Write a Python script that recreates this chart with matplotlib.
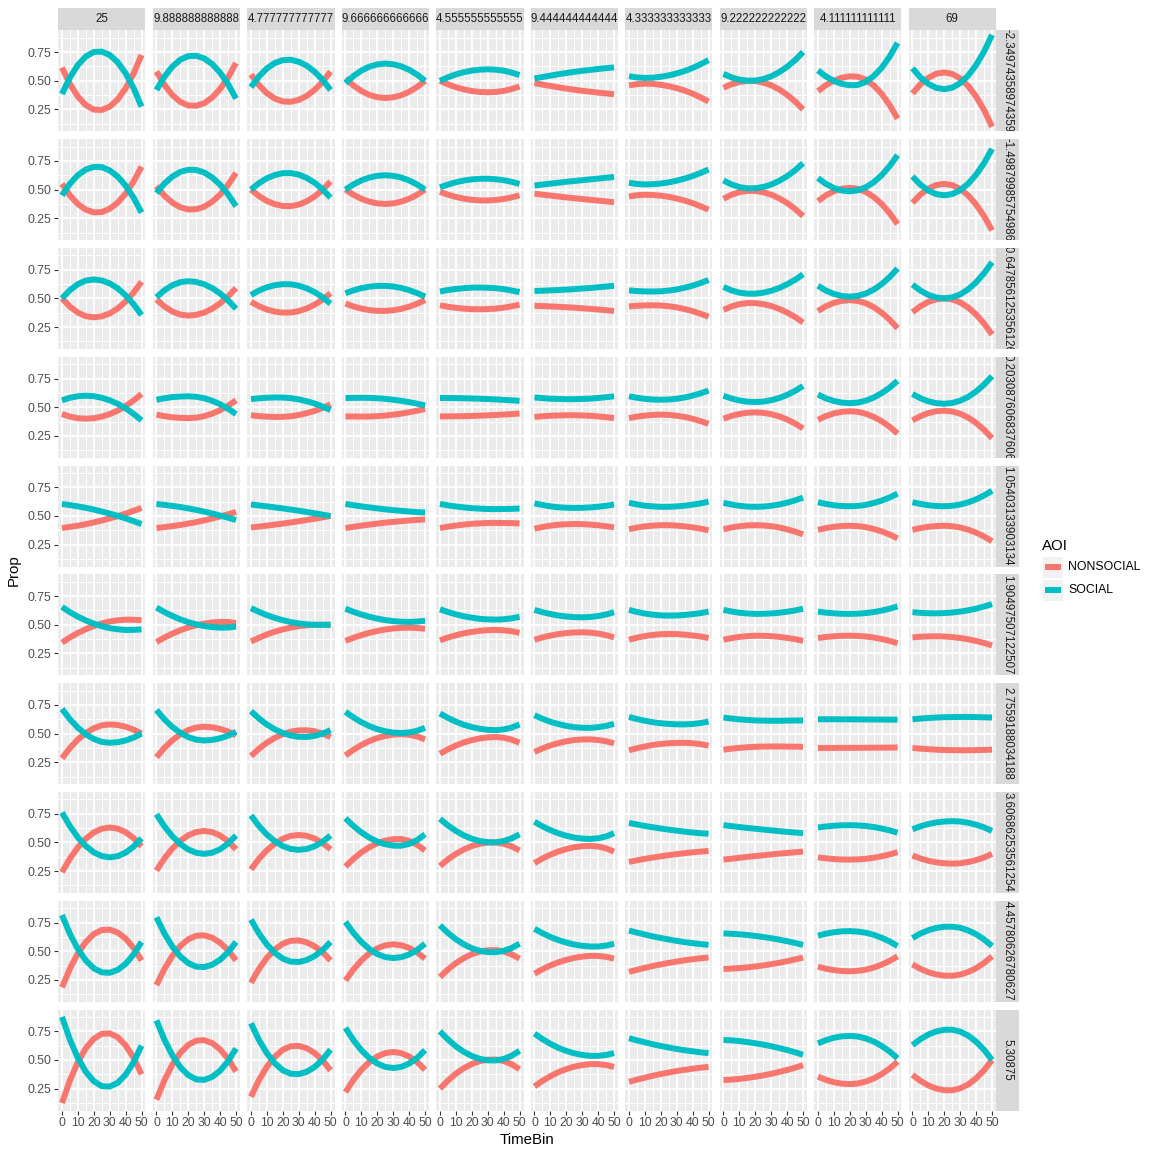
import matplotlib
matplotlib.use("Agg")
import matplotlib.pyplot as plt
from matplotlib.patches import Rectangle
from matplotlib.lines import Line2D

# ---------------- data ----------------
TIME_BINS = [0, 5, 10, 15, 20, 25, 30, 35, 40, 45, 50]
# column strip labels as they appear (cut off by the strip width) in the reference
COL_LABELS = ["25", "9.888888888888", "4.777777777777", "9.666666666666",
              "4.555555555555", "9.444444444444", "4.333333333333",
              "9.222222222222", "4.111111111111", "69"]
ROW_LABELS = ["-2.34974358974359", "-1.49879985754986", "-0.647856125356126",
              "0.203087606837606", "1.05403133903134", "1.90497507122507",
              "2.7559188034188", "3.60686253561254", "4.45780626780627", "5.30875"]
X_TICKS = [0, 10, 20, 30, 40, 50]
X_TICK_LABELS = ["0", "10", "20", "30", "40", "50"]
Y_TICKS = [0.25, 0.50, 0.75]
Y_TICK_LABELS = ["0.25", "0.50", "0.75"]
AOI_LEVELS = ["NONSOCIAL", "SOCIAL"]

SOCIAL = [
    [  # row 1
        [0.385, 0.529, 0.638, 0.712, 0.751, 0.754, 0.725, 0.662, 0.566, 0.437, 0.275],
        [0.420, 0.536, 0.624, 0.684, 0.715, 0.718, 0.695, 0.646, 0.571, 0.471, 0.345],
        [0.445, 0.538, 0.608, 0.655, 0.680, 0.683, 0.666, 0.632, 0.579, 0.509, 0.420],
        [0.480, 0.541, 0.589, 0.623, 0.643, 0.650, 0.644, 0.626, 0.596, 0.554, 0.500],
        [0.500, 0.531, 0.556, 0.575, 0.589, 0.597, 0.600, 0.597, 0.588, 0.572, 0.550],
        [0.520, 0.533, 0.545, 0.557, 0.568, 0.578, 0.587, 0.595, 0.603, 0.610, 0.617],
        [0.540, 0.529, 0.525, 0.527, 0.535, 0.547, 0.564, 0.585, 0.612, 0.644, 0.680],
        [0.560, 0.530, 0.510, 0.501, 0.502, 0.515, 0.539, 0.575, 0.622, 0.680, 0.750],
        [0.590, 0.538, 0.499, 0.473, 0.461, 0.464, 0.490, 0.540, 0.613, 0.710, 0.830],
        [0.610, 0.530, 0.473, 0.438, 0.427, 0.440, 0.480, 0.545, 0.637, 0.755, 0.900],
    ],
    [  # row 2
        [0.450, 0.551, 0.626, 0.675, 0.698, 0.696, 0.667, 0.614, 0.535, 0.430, 0.300],
        [0.470, 0.553, 0.614, 0.654, 0.673, 0.671, 0.649, 0.606, 0.543, 0.459, 0.355],
        [0.500, 0.556, 0.599, 0.627, 0.643, 0.644, 0.631, 0.602, 0.560, 0.502, 0.430],
        [0.500, 0.545, 0.580, 0.605, 0.620, 0.625, 0.620, 0.605, 0.580, 0.545, 0.500],
        [0.520, 0.544, 0.564, 0.579, 0.589, 0.594, 0.595, 0.590, 0.582, 0.568, 0.550],
        [0.535, 0.544, 0.552, 0.560, 0.568, 0.575, 0.582, 0.589, 0.596, 0.603, 0.610],
        [0.560, 0.549, 0.545, 0.547, 0.553, 0.563, 0.578, 0.596, 0.618, 0.645, 0.675],
        [0.580, 0.545, 0.522, 0.511, 0.512, 0.523, 0.544, 0.576, 0.617, 0.668, 0.730],
        [0.600, 0.550, 0.514, 0.492, 0.485, 0.494, 0.520, 0.564, 0.625, 0.704, 0.800],
        [0.615, 0.543, 0.491, 0.460, 0.450, 0.461, 0.495, 0.551, 0.630, 0.731, 0.855],
    ],
    [  # row 3
        [0.500, 0.572, 0.624, 0.655, 0.665, 0.656, 0.631, 0.588, 0.527, 0.450, 0.355],
        [0.510, 0.571, 0.615, 0.641, 0.650, 0.643, 0.623, 0.590, 0.543, 0.483, 0.410],
        [0.530, 0.568, 0.597, 0.615, 0.624, 0.623, 0.611, 0.588, 0.555, 0.510, 0.455],
        [0.545, 0.570, 0.589, 0.602, 0.609, 0.609, 0.604, 0.591, 0.572, 0.547, 0.515],
        [0.560, 0.573, 0.582, 0.589, 0.594, 0.595, 0.593, 0.589, 0.581, 0.569, 0.555],
        [0.565, 0.567, 0.570, 0.573, 0.577, 0.581, 0.586, 0.591, 0.597, 0.603, 0.610],
        [0.570, 0.564, 0.561, 0.560, 0.562, 0.568, 0.578, 0.593, 0.611, 0.634, 0.660],
        [0.600, 0.570, 0.550, 0.541, 0.541, 0.550, 0.566, 0.591, 0.623, 0.662, 0.710],
        [0.610, 0.568, 0.539, 0.521, 0.515, 0.522, 0.542, 0.576, 0.624, 0.685, 0.760],
        [0.620, 0.568, 0.530, 0.508, 0.500, 0.509, 0.535, 0.579, 0.640, 0.719, 0.815],
    ],
    [  # row 4
        [0.560, 0.582, 0.596, 0.600, 0.596, 0.582, 0.560, 0.530, 0.490, 0.442, 0.385],
        [0.565, 0.578, 0.588, 0.593, 0.595, 0.591, 0.578, 0.556, 0.526, 0.487, 0.440],
        [0.570, 0.578, 0.582, 0.585, 0.584, 0.579, 0.568, 0.552, 0.532, 0.506, 0.475],
        [0.580, 0.581, 0.582, 0.581, 0.578, 0.573, 0.565, 0.556, 0.544, 0.531, 0.515],
        [0.580, 0.580, 0.579, 0.578, 0.576, 0.574, 0.571, 0.568, 0.564, 0.560, 0.555],
        [0.585, 0.579, 0.574, 0.572, 0.570, 0.570, 0.572, 0.575, 0.580, 0.587, 0.595],
        [0.595, 0.582, 0.573, 0.567, 0.565, 0.567, 0.574, 0.585, 0.601, 0.621, 0.645],
        [0.600, 0.576, 0.559, 0.548, 0.545, 0.549, 0.561, 0.580, 0.607, 0.642, 0.685],
        [0.610, 0.577, 0.554, 0.540, 0.535, 0.540, 0.557, 0.584, 0.622, 0.670, 0.730],
        [0.615, 0.578, 0.551, 0.535, 0.530, 0.537, 0.557, 0.590, 0.637, 0.697, 0.770],
    ],
    [  # row 5
        [0.605, 0.595, 0.584, 0.571, 0.556, 0.539, 0.521, 0.501, 0.479, 0.455, 0.430],
        [0.605, 0.597, 0.588, 0.578, 0.566, 0.553, 0.538, 0.522, 0.504, 0.485, 0.465],
        [0.600, 0.592, 0.584, 0.575, 0.566, 0.556, 0.546, 0.535, 0.524, 0.512, 0.500],
        [0.605, 0.594, 0.584, 0.575, 0.566, 0.558, 0.551, 0.545, 0.539, 0.534, 0.530],
        [0.605, 0.593, 0.583, 0.575, 0.568, 0.564, 0.561, 0.560, 0.561, 0.562, 0.565],
        [0.610, 0.596, 0.584, 0.576, 0.572, 0.570, 0.571, 0.575, 0.581, 0.589, 0.600],
        [0.615, 0.601, 0.590, 0.584, 0.580, 0.580, 0.584, 0.590, 0.599, 0.610, 0.625],
        [0.615, 0.600, 0.589, 0.582, 0.580, 0.582, 0.589, 0.600, 0.616, 0.636, 0.660],
        [0.620, 0.605, 0.594, 0.587, 0.585, 0.588, 0.597, 0.613, 0.634, 0.661, 0.695],
        [0.620, 0.605, 0.594, 0.587, 0.585, 0.589, 0.600, 0.619, 0.645, 0.679, 0.720],
    ],
    [  # row 6
        [0.655, 0.610, 0.571, 0.538, 0.510, 0.488, 0.471, 0.461, 0.455, 0.456, 0.460],
        [0.650, 0.611, 0.577, 0.547, 0.523, 0.504, 0.489, 0.480, 0.475, 0.476, 0.485],
        [0.645, 0.613, 0.584, 0.560, 0.540, 0.524, 0.512, 0.504, 0.500, 0.500, 0.500],
        [0.640, 0.613, 0.590, 0.570, 0.554, 0.541, 0.532, 0.527, 0.525, 0.528, 0.535],
        [0.635, 0.611, 0.591, 0.574, 0.562, 0.552, 0.547, 0.545, 0.548, 0.556, 0.570],
        [0.630, 0.610, 0.594, 0.581, 0.572, 0.567, 0.565, 0.568, 0.576, 0.590, 0.610],
        [0.630, 0.612, 0.598, 0.588, 0.582, 0.580, 0.581, 0.586, 0.593, 0.602, 0.615],
        [0.630, 0.616, 0.605, 0.599, 0.595, 0.596, 0.599, 0.605, 0.614, 0.625, 0.640],
        [0.615, 0.606, 0.600, 0.596, 0.595, 0.597, 0.602, 0.611, 0.624, 0.640, 0.660],
        [0.610, 0.604, 0.601, 0.600, 0.602, 0.607, 0.615, 0.626, 0.641, 0.659, 0.680],
    ],
    [  # row 7
        [0.715, 0.625, 0.551, 0.494, 0.453, 0.428, 0.420, 0.425, 0.440, 0.465, 0.500],
        [0.705, 0.624, 0.558, 0.506, 0.469, 0.447, 0.440, 0.445, 0.459, 0.482, 0.515],
        [0.695, 0.632, 0.579, 0.537, 0.505, 0.483, 0.472, 0.471, 0.480, 0.500, 0.530],
        [0.690, 0.641, 0.599, 0.565, 0.539, 0.520, 0.509, 0.505, 0.510, 0.525, 0.550],
        [0.675, 0.637, 0.604, 0.577, 0.557, 0.542, 0.533, 0.530, 0.536, 0.552, 0.580],
        [0.660, 0.629, 0.603, 0.583, 0.567, 0.556, 0.551, 0.550, 0.556, 0.567, 0.585],
        [0.645, 0.627, 0.612, 0.599, 0.590, 0.584, 0.581, 0.580, 0.584, 0.592, 0.605],
        [0.640, 0.631, 0.624, 0.619, 0.615, 0.613, 0.612, 0.612, 0.613, 0.614, 0.615],
        [0.625, 0.625, 0.625, 0.624, 0.624, 0.624, 0.623, 0.623, 0.622, 0.622, 0.621],
        [0.625, 0.631, 0.636, 0.640, 0.643, 0.644, 0.645, 0.645, 0.644, 0.642, 0.640],
    ],
    [  # row 8
        [0.760, 0.641, 0.543, 0.468, 0.413, 0.381, 0.370, 0.380, 0.411, 0.463, 0.535],
        [0.745, 0.639, 0.553, 0.486, 0.438, 0.410, 0.400, 0.410, 0.440, 0.490, 0.560],
        [0.735, 0.643, 0.568, 0.510, 0.468, 0.443, 0.435, 0.443, 0.466, 0.505, 0.560],
        [0.710, 0.643, 0.587, 0.542, 0.507, 0.484, 0.472, 0.471, 0.487, 0.520, 0.570],
        [0.705, 0.648, 0.600, 0.561, 0.532, 0.512, 0.502, 0.501, 0.512, 0.535, 0.570],
        [0.680, 0.640, 0.607, 0.579, 0.558, 0.542, 0.533, 0.530, 0.536, 0.552, 0.580],
        [0.670, 0.656, 0.643, 0.632, 0.621, 0.611, 0.602, 0.594, 0.586, 0.580, 0.575],
        [0.650, 0.642, 0.634, 0.626, 0.619, 0.612, 0.605, 0.598, 0.592, 0.586, 0.580],
        [0.630, 0.639, 0.645, 0.649, 0.650, 0.648, 0.643, 0.634, 0.621, 0.605, 0.585],
        [0.615, 0.640, 0.660, 0.674, 0.682, 0.685, 0.682, 0.671, 0.654, 0.631, 0.600],
    ],
    [  # row 9
        [0.815, 0.651, 0.519, 0.419, 0.351, 0.316, 0.312, 0.337, 0.390, 0.471, 0.580],
        [0.795, 0.654, 0.540, 0.454, 0.396, 0.365, 0.362, 0.382, 0.426, 0.491, 0.580],
        [0.775, 0.655, 0.558, 0.485, 0.435, 0.409, 0.406, 0.423, 0.457, 0.509, 0.580],
        [0.755, 0.659, 0.580, 0.519, 0.475, 0.449, 0.440, 0.448, 0.471, 0.510, 0.565],
        [0.725, 0.659, 0.604, 0.560, 0.526, 0.504, 0.492, 0.491, 0.503, 0.527, 0.565],
        [0.695, 0.657, 0.624, 0.597, 0.575, 0.558, 0.547, 0.541, 0.541, 0.549, 0.565],
        [0.680, 0.662, 0.645, 0.629, 0.615, 0.602, 0.590, 0.579, 0.570, 0.562, 0.555],
        [0.655, 0.652, 0.647, 0.641, 0.633, 0.624, 0.613, 0.601, 0.587, 0.572, 0.555],
        [0.635, 0.653, 0.665, 0.673, 0.675, 0.671, 0.661, 0.643, 0.617, 0.585, 0.545],
        [0.615, 0.654, 0.683, 0.703, 0.713, 0.714, 0.704, 0.681, 0.648, 0.602, 0.545],
    ],
    [  # row 10
        [0.875, 0.677, 0.517, 0.397, 0.315, 0.272, 0.268, 0.301, 0.372, 0.480, 0.625],
        [0.845, 0.676, 0.540, 0.437, 0.368, 0.331, 0.327, 0.353, 0.407, 0.489, 0.600],
        [0.820, 0.675, 0.559, 0.471, 0.411, 0.380, 0.377, 0.397, 0.439, 0.503, 0.590],
        [0.780, 0.673, 0.585, 0.518, 0.469, 0.440, 0.430, 0.440, 0.469, 0.517, 0.585],
        [0.750, 0.679, 0.619, 0.571, 0.535, 0.510, 0.497, 0.496, 0.509, 0.537, 0.580],
        [0.730, 0.682, 0.641, 0.606, 0.579, 0.558, 0.544, 0.536, 0.536, 0.544, 0.560],
        [0.690, 0.671, 0.654, 0.637, 0.622, 0.609, 0.596, 0.585, 0.576, 0.567, 0.560],
        [0.675, 0.671, 0.665, 0.656, 0.646, 0.634, 0.620, 0.604, 0.587, 0.567, 0.545],
        [0.645, 0.673, 0.694, 0.706, 0.710, 0.705, 0.688, 0.661, 0.623, 0.575, 0.515],
        [0.630, 0.682, 0.722, 0.749, 0.763, 0.764, 0.747, 0.713, 0.660, 0.589, 0.500],
    ],
]

NONSOCIAL = [
    [  # row 1
        [0.615, 0.471, 0.362, 0.288, 0.249, 0.246, 0.275, 0.338, 0.434, 0.563, 0.725],
        [0.580, 0.464, 0.376, 0.316, 0.285, 0.282, 0.305, 0.354, 0.429, 0.529, 0.655],
        [0.555, 0.462, 0.392, 0.345, 0.320, 0.317, 0.334, 0.368, 0.421, 0.491, 0.580],
        [0.520, 0.459, 0.411, 0.377, 0.357, 0.350, 0.356, 0.374, 0.404, 0.446, 0.500],
        [0.500, 0.469, 0.444, 0.425, 0.411, 0.403, 0.400, 0.403, 0.412, 0.428, 0.450],
        [0.480, 0.467, 0.455, 0.443, 0.432, 0.422, 0.413, 0.405, 0.397, 0.390, 0.383],
        [0.460, 0.471, 0.475, 0.473, 0.465, 0.453, 0.436, 0.415, 0.388, 0.356, 0.320],
        [0.440, 0.470, 0.490, 0.499, 0.498, 0.485, 0.461, 0.425, 0.378, 0.320, 0.250],
        [0.410, 0.462, 0.501, 0.527, 0.539, 0.536, 0.510, 0.460, 0.387, 0.290, 0.170],
        [0.390, 0.470, 0.527, 0.562, 0.573, 0.560, 0.520, 0.455, 0.363, 0.245, 0.100],
    ],
    [  # row 2
        [0.550, 0.449, 0.374, 0.325, 0.302, 0.304, 0.333, 0.386, 0.465, 0.570, 0.700],
        [0.530, 0.447, 0.386, 0.346, 0.327, 0.329, 0.351, 0.394, 0.457, 0.541, 0.645],
        [0.500, 0.444, 0.401, 0.373, 0.357, 0.356, 0.369, 0.398, 0.440, 0.498, 0.570],
        [0.500, 0.455, 0.420, 0.395, 0.380, 0.375, 0.380, 0.395, 0.420, 0.455, 0.500],
        [0.480, 0.456, 0.436, 0.421, 0.411, 0.406, 0.405, 0.410, 0.418, 0.432, 0.450],
        [0.465, 0.456, 0.448, 0.440, 0.432, 0.425, 0.418, 0.411, 0.404, 0.397, 0.390],
        [0.440, 0.451, 0.455, 0.453, 0.447, 0.437, 0.422, 0.404, 0.382, 0.355, 0.325],
        [0.420, 0.455, 0.478, 0.489, 0.488, 0.477, 0.456, 0.424, 0.383, 0.332, 0.270],
        [0.400, 0.450, 0.486, 0.508, 0.515, 0.506, 0.480, 0.436, 0.375, 0.296, 0.200],
        [0.385, 0.457, 0.509, 0.540, 0.550, 0.539, 0.505, 0.449, 0.370, 0.269, 0.145],
    ],
    [  # row 3
        [0.500, 0.428, 0.376, 0.345, 0.335, 0.344, 0.369, 0.412, 0.473, 0.550, 0.645],
        [0.490, 0.429, 0.385, 0.359, 0.350, 0.357, 0.377, 0.410, 0.457, 0.517, 0.590],
        [0.470, 0.432, 0.403, 0.385, 0.376, 0.377, 0.389, 0.412, 0.445, 0.490, 0.545],
        [0.455, 0.430, 0.411, 0.398, 0.391, 0.391, 0.396, 0.409, 0.428, 0.453, 0.485],
        [0.440, 0.427, 0.418, 0.411, 0.406, 0.405, 0.407, 0.411, 0.419, 0.431, 0.445],
        [0.435, 0.433, 0.430, 0.427, 0.423, 0.419, 0.414, 0.409, 0.403, 0.397, 0.390],
        [0.430, 0.436, 0.439, 0.440, 0.438, 0.432, 0.422, 0.407, 0.389, 0.366, 0.340],
        [0.400, 0.430, 0.450, 0.459, 0.459, 0.450, 0.434, 0.409, 0.377, 0.338, 0.290],
        [0.390, 0.432, 0.461, 0.479, 0.485, 0.478, 0.458, 0.424, 0.376, 0.315, 0.240],
        [0.380, 0.432, 0.470, 0.492, 0.500, 0.491, 0.465, 0.421, 0.360, 0.281, 0.185],
    ],
    [  # row 4
        [0.440, 0.418, 0.404, 0.400, 0.404, 0.418, 0.440, 0.470, 0.510, 0.558, 0.615],
        [0.435, 0.422, 0.412, 0.407, 0.405, 0.409, 0.422, 0.444, 0.474, 0.513, 0.560],
        [0.430, 0.422, 0.418, 0.415, 0.416, 0.421, 0.432, 0.448, 0.468, 0.494, 0.525],
        [0.420, 0.419, 0.418, 0.419, 0.422, 0.427, 0.435, 0.444, 0.456, 0.469, 0.485],
        [0.420, 0.420, 0.421, 0.422, 0.424, 0.426, 0.429, 0.432, 0.436, 0.440, 0.445],
        [0.415, 0.421, 0.426, 0.428, 0.430, 0.430, 0.428, 0.425, 0.420, 0.413, 0.405],
        [0.405, 0.418, 0.427, 0.433, 0.435, 0.433, 0.426, 0.415, 0.399, 0.379, 0.355],
        [0.400, 0.424, 0.441, 0.452, 0.455, 0.451, 0.439, 0.420, 0.393, 0.358, 0.315],
        [0.390, 0.423, 0.446, 0.460, 0.465, 0.460, 0.443, 0.416, 0.378, 0.330, 0.270],
        [0.385, 0.422, 0.449, 0.465, 0.470, 0.463, 0.443, 0.410, 0.363, 0.303, 0.230],
    ],
    [  # row 5
        [0.395, 0.405, 0.416, 0.429, 0.444, 0.461, 0.479, 0.499, 0.521, 0.545, 0.570],
        [0.395, 0.403, 0.412, 0.422, 0.434, 0.447, 0.462, 0.478, 0.496, 0.515, 0.535],
        [0.400, 0.408, 0.416, 0.425, 0.434, 0.444, 0.454, 0.465, 0.476, 0.488, 0.500],
        [0.395, 0.406, 0.416, 0.425, 0.434, 0.442, 0.449, 0.455, 0.461, 0.466, 0.470],
        [0.395, 0.407, 0.417, 0.425, 0.432, 0.436, 0.439, 0.440, 0.439, 0.438, 0.435],
        [0.390, 0.404, 0.416, 0.424, 0.428, 0.430, 0.429, 0.425, 0.419, 0.411, 0.400],
        [0.385, 0.399, 0.410, 0.416, 0.420, 0.420, 0.416, 0.410, 0.401, 0.390, 0.375],
        [0.385, 0.400, 0.411, 0.418, 0.420, 0.418, 0.411, 0.400, 0.384, 0.364, 0.340],
        [0.380, 0.395, 0.406, 0.413, 0.415, 0.412, 0.403, 0.387, 0.366, 0.339, 0.305],
        [0.380, 0.395, 0.406, 0.413, 0.415, 0.411, 0.400, 0.381, 0.355, 0.321, 0.280],
    ],
    [  # row 6
        [0.345, 0.390, 0.429, 0.462, 0.490, 0.512, 0.529, 0.539, 0.545, 0.544, 0.540],
        [0.350, 0.389, 0.423, 0.453, 0.477, 0.496, 0.511, 0.520, 0.525, 0.524, 0.515],
        [0.355, 0.387, 0.416, 0.440, 0.460, 0.476, 0.488, 0.496, 0.500, 0.500, 0.500],
        [0.360, 0.387, 0.410, 0.430, 0.446, 0.459, 0.468, 0.473, 0.475, 0.472, 0.465],
        [0.365, 0.389, 0.409, 0.426, 0.438, 0.448, 0.453, 0.455, 0.452, 0.444, 0.430],
        [0.370, 0.390, 0.406, 0.419, 0.428, 0.433, 0.435, 0.432, 0.424, 0.410, 0.390],
        [0.370, 0.388, 0.402, 0.412, 0.418, 0.420, 0.419, 0.414, 0.407, 0.398, 0.385],
        [0.370, 0.384, 0.395, 0.401, 0.405, 0.404, 0.401, 0.395, 0.386, 0.375, 0.360],
        [0.385, 0.394, 0.400, 0.404, 0.405, 0.403, 0.398, 0.389, 0.376, 0.360, 0.340],
        [0.390, 0.396, 0.399, 0.400, 0.398, 0.393, 0.385, 0.374, 0.359, 0.341, 0.320],
    ],
    [  # row 7
        [0.285, 0.375, 0.449, 0.506, 0.547, 0.572, 0.580, 0.575, 0.560, 0.535, 0.500],
        [0.295, 0.376, 0.442, 0.494, 0.531, 0.553, 0.560, 0.555, 0.541, 0.518, 0.485],
        [0.305, 0.368, 0.421, 0.463, 0.495, 0.517, 0.528, 0.529, 0.520, 0.500, 0.470],
        [0.310, 0.359, 0.401, 0.435, 0.461, 0.480, 0.491, 0.495, 0.490, 0.475, 0.450],
        [0.325, 0.363, 0.396, 0.423, 0.443, 0.458, 0.467, 0.470, 0.464, 0.448, 0.420],
        [0.340, 0.371, 0.397, 0.417, 0.433, 0.444, 0.449, 0.450, 0.444, 0.433, 0.415],
        [0.355, 0.373, 0.388, 0.401, 0.410, 0.416, 0.419, 0.420, 0.416, 0.408, 0.395],
        [0.360, 0.369, 0.376, 0.381, 0.385, 0.387, 0.388, 0.388, 0.387, 0.386, 0.385],
        [0.375, 0.375, 0.375, 0.376, 0.376, 0.376, 0.377, 0.377, 0.378, 0.378, 0.379],
        [0.375, 0.369, 0.364, 0.360, 0.357, 0.356, 0.355, 0.355, 0.356, 0.358, 0.360],
    ],
    [  # row 8
        [0.240, 0.359, 0.457, 0.532, 0.587, 0.619, 0.630, 0.620, 0.589, 0.537, 0.465],
        [0.255, 0.361, 0.447, 0.514, 0.562, 0.590, 0.600, 0.590, 0.560, 0.510, 0.440],
        [0.265, 0.357, 0.432, 0.490, 0.532, 0.557, 0.565, 0.557, 0.534, 0.495, 0.440],
        [0.290, 0.357, 0.413, 0.458, 0.493, 0.516, 0.528, 0.529, 0.513, 0.480, 0.430],
        [0.295, 0.352, 0.400, 0.439, 0.468, 0.488, 0.498, 0.499, 0.488, 0.465, 0.430],
        [0.320, 0.360, 0.393, 0.421, 0.442, 0.458, 0.467, 0.470, 0.464, 0.448, 0.420],
        [0.330, 0.344, 0.357, 0.368, 0.379, 0.389, 0.398, 0.406, 0.414, 0.420, 0.425],
        [0.350, 0.358, 0.366, 0.374, 0.381, 0.388, 0.395, 0.402, 0.408, 0.414, 0.420],
        [0.370, 0.361, 0.355, 0.351, 0.350, 0.352, 0.357, 0.366, 0.379, 0.395, 0.415],
        [0.385, 0.360, 0.340, 0.326, 0.318, 0.315, 0.318, 0.329, 0.346, 0.369, 0.400],
    ],
    [  # row 9
        [0.185, 0.349, 0.481, 0.581, 0.649, 0.684, 0.688, 0.663, 0.610, 0.529, 0.420],
        [0.205, 0.346, 0.460, 0.546, 0.604, 0.635, 0.638, 0.618, 0.574, 0.509, 0.420],
        [0.225, 0.345, 0.442, 0.515, 0.565, 0.591, 0.594, 0.577, 0.543, 0.491, 0.420],
        [0.245, 0.341, 0.420, 0.481, 0.525, 0.551, 0.560, 0.552, 0.529, 0.490, 0.435],
        [0.275, 0.341, 0.396, 0.440, 0.474, 0.496, 0.508, 0.509, 0.497, 0.473, 0.435],
        [0.305, 0.343, 0.376, 0.403, 0.425, 0.442, 0.453, 0.459, 0.459, 0.451, 0.435],
        [0.320, 0.338, 0.355, 0.371, 0.385, 0.398, 0.410, 0.421, 0.430, 0.438, 0.445],
        [0.345, 0.348, 0.353, 0.359, 0.367, 0.376, 0.387, 0.399, 0.413, 0.428, 0.445],
        [0.365, 0.347, 0.335, 0.327, 0.325, 0.329, 0.339, 0.357, 0.383, 0.415, 0.455],
        [0.385, 0.346, 0.317, 0.297, 0.287, 0.286, 0.296, 0.319, 0.352, 0.398, 0.455],
    ],
    [  # row 10
        [0.125, 0.323, 0.483, 0.603, 0.685, 0.728, 0.732, 0.699, 0.628, 0.520, 0.375],
        [0.155, 0.324, 0.460, 0.563, 0.632, 0.669, 0.673, 0.647, 0.593, 0.511, 0.400],
        [0.180, 0.325, 0.441, 0.529, 0.589, 0.620, 0.623, 0.603, 0.561, 0.497, 0.410],
        [0.220, 0.327, 0.415, 0.482, 0.531, 0.560, 0.570, 0.560, 0.531, 0.483, 0.415],
        [0.250, 0.321, 0.381, 0.429, 0.465, 0.490, 0.503, 0.504, 0.491, 0.463, 0.420],
        [0.270, 0.318, 0.359, 0.394, 0.421, 0.442, 0.456, 0.464, 0.464, 0.456, 0.440],
        [0.310, 0.329, 0.346, 0.363, 0.378, 0.391, 0.404, 0.415, 0.424, 0.433, 0.440],
        [0.325, 0.329, 0.335, 0.344, 0.354, 0.366, 0.380, 0.396, 0.413, 0.433, 0.455],
        [0.355, 0.327, 0.306, 0.294, 0.290, 0.295, 0.312, 0.339, 0.377, 0.425, 0.485],
        [0.370, 0.318, 0.278, 0.251, 0.237, 0.236, 0.253, 0.287, 0.340, 0.411, 0.500],
    ],
]

SERIES = {"NONSOCIAL": NONSOCIAL, "SOCIAL": SOCIAL}
COLORS = {"NONSOCIAL": "#F8766D", "SOCIAL": "#00BFC4"}

# ---------------- style / layout ----------------
plt.rcParams["font.family"] = ["Liberation Sans", "DejaVu Sans"]

W = H = 1152
fig = plt.figure(figsize=(W / 100, H / 100), dpi=100)
fig.patch.set_facecolor("white")


def fr(x, y, w, h):
    return [x / W, 1 - (y + h) / H, w / W, h / H]


PX0, PW, PXS = 58.0, 87.5, 94.5
PY0, PH, PYS = 30.3, 101.0, 108.8
STRIP = 22.8
LINE_W = 4.3
TICK_FS = 8.8
STRIP_FS = 8.3

all_vals = [v for g in SERIES.values() for row in g for cell in row for v in cell]
lo, hi = min(all_vals), max(all_vals)
ypad = 0.05 * (hi - lo)
ylim = (lo - ypad, hi + ypad)
xpad = 0.05 * (max(TIME_BINS) - min(TIME_BINS))
xlim = (min(TIME_BINS) - xpad, max(TIME_BINS) + xpad)

x_minor = [(a + b) / 2 for a, b in zip(X_TICKS[:-1], X_TICKS[1:])]
ystep = Y_TICKS[1] - Y_TICKS[0]
y_minor = [Y_TICKS[0] - ystep / 2] + [(a + b) / 2 for a, b in zip(Y_TICKS[:-1], Y_TICKS[1:])] + [Y_TICKS[-1] + ystep / 2]

nrows, ncols = len(ROW_LABELS), len(COL_LABELS)
for r in range(nrows):
    for c in range(ncols):
        x = PX0 + c * PXS
        y = PY0 + r * PYS
        ax = fig.add_axes(fr(x, y, PW, PH))
        ax.set_facecolor("#EBEBEB")
        for name in AOI_LEVELS:
            ax.plot(TIME_BINS, SERIES[name][r][c], color=COLORS[name], lw=LINE_W,
                    solid_capstyle="butt", solid_joinstyle="round", zorder=3)
        ax.set_xlim(xlim)
        ax.set_ylim(ylim)
        ax.set_xticks(X_TICKS)
        ax.set_xticks(x_minor, minor=True)
        ax.set_yticks(Y_TICKS)
        ax.set_yticks(y_minor, minor=True)
        ax.grid(which="major", color="white", lw=1.35)
        ax.grid(which="minor", color="white", lw=0.7)
        ax.set_axisbelow(True)
        for s in ax.spines.values():
            s.set_visible(False)
        ax.tick_params(which="minor", length=0)
        ax.tick_params(which="major", length=2.64, width=0.8, color="#333333",
                       pad=2.1, labelsize=TICK_FS, labelcolor="#4D4D4D")
        if c == 0:
            ax.set_yticklabels(Y_TICK_LABELS)
        else:
            ax.tick_params(axis="y", length=0, labelleft=False)
        if r == nrows - 1:
            ax.set_xticklabels(X_TICK_LABELS)
        else:
            ax.tick_params(axis="x", length=0, labelbottom=False)

        # column strips
        if r == 0:
            sax = fig.add_axes(fr(x, PY0 - STRIP, PW, STRIP))
            sax.set_facecolor("#D9D9D9")
            sax.set_xticks([]); sax.set_yticks([])
            for s in sax.spines.values():
                s.set_visible(False)
            sax.text(0.5, 0.5, COL_LABELS[c], transform=sax.transAxes, ha="center",
                     va="center", fontsize=STRIP_FS, color="#1A1A1A", clip_on=True)
        # row strips
        if c == ncols - 1:
            rax = fig.add_axes(fr(x + PW, y, 23.0, PH))
            rax.set_facecolor("#D9D9D9")
            rax.set_xticks([]); rax.set_yticks([])
            for s in rax.spines.values():
                s.set_visible(False)
            rax.text(0.5, 0.5, ROW_LABELS[r], transform=rax.transAxes, ha="center",
                     va="center", rotation=-90, fontsize=STRIP_FS, color="#1A1A1A",
                     clip_on=True)

# axis titles
fig.text(14 / W, 1 - 570.4 / H, "Prop", rotation=90, ha="center", va="center",
         fontsize=10.8, color="black")
fig.text(527 / W, 1 - 1140 / H, "TimeBin", ha="center", va="center",
         fontsize=10.8, color="black")

# legend
fig.text(1042 / W, 1 - 546 / H, "AOI", ha="left", va="center", fontsize=10.8, color="black")
key_tops = [557.0, 580.0]
for name, ky in zip(AOI_LEVELS, key_tops):
    fig.add_artist(Rectangle((1042.5 / W, 1 - (ky + 20.5) / H), 20.5 / W, 20.5 / H,
                             transform=fig.transFigure, facecolor="#F2F2F2",
                             edgecolor="none"))
    yc = 1 - (ky + 10.25) / H
    fig.add_artist(Line2D([1044.5 / W, 1061.0 / W], [yc, yc], transform=fig.transFigure,
                          color=COLORS[name], lw=LINE_W, solid_capstyle="butt"))
    fig.text(1068 / W, yc, name, ha="left", va="center", fontsize=TICK_FS, color="black")

fig.savefig("out.png", dpi=100, facecolor="white")
